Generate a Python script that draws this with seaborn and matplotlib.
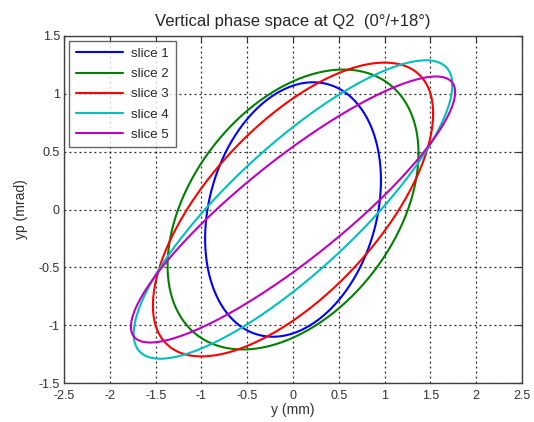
import numpy as np
import pandas as pd
import matplotlib
matplotlib.use("Agg")
import matplotlib.pyplot as plt
import seaborn as sns

# Ellipse parameters (centered on the origin)
slices = ["slice 1", "slice 2", "slice 3", "slice 4", "slice 5"]
y_max = [0.96, 1.37, 1.53, 1.74, 1.77]          # largest y (mm)
yp_max = [1.10, 1.21, 1.27, 1.29, 1.15]         # largest yp (mrad)
y_at_yp_max = [0.22, 0.55, 1.00, 1.45, 1.56]    # y where yp peaks (mm)
colors = ["#0000ff", "#008000", "#ff0000", "#00bfbf", "#bf00bf"]

x_ticks = [-2.5, -2, -1.5, -1, -0.5, 0, 0.5, 1, 1.5, 2, 2.5]
y_ticks = [-1.5, -1, -0.5, 0, 0.5, 1, 1.5]

# Sample each phase-space ellipse
rows = []
t = np.linspace(0, 2 * np.pi, 361)
for name, a, b, yc in zip(slices, y_max, yp_max, y_at_yp_max):
    phi = np.arccos(yc / a)
    df_s = pd.DataFrame({"y": a * np.cos(t), "yp": b * np.cos(t - phi), "slice": name})
    rows.append(df_s)
df = pd.concat(rows, ignore_index=True)

sns.set_style("white")
plt.rcParams["font.family"] = ["Liberation Sans", "DejaVu Sans"]

fig = plt.figure(figsize=(5.34, 4.22), dpi=100)
ax = fig.add_axes([0.120, 0.0924, 0.8575, 0.8223])

sns.lineplot(data=df, x="y", y="yp", hue="slice", palette=colors, sort=False, estimator=None, units="slice", lw=1.5, ax=ax)

ax.set_xlim(-2.5, 2.5)
ax.set_ylim(-1.5, 1.5)
ax.set_xticks(x_ticks)
ax.set_xticklabels([f"{v:g}" for v in x_ticks])
ax.set_yticks(y_ticks)
ax.set_yticklabels([f"{v:g}" for v in y_ticks])
ax.grid(True, color="#202020", linestyle=(0, (1.5, 2.5)), linewidth=0.9)
ax.tick_params(direction="in", top=True, right=True, length=4, width=0.8, labelsize=9, colors="#303030")
ax.tick_params(axis="x", pad=5)
ax.tick_params(axis="y", pad=3)
for sp in ax.spines.values():
    sp.set_color("#404040")
    sp.set_linewidth(1.0)

ax.set_xlabel("y (mm)", fontsize=10, labelpad=1, color="#303030")
ax.set_ylabel("yp (mrad)", fontsize=10, labelpad=8, color="#303030")
ax.set_title("Vertical phase space at Q2  (0°/+18°)", fontsize=12, pad=7)

leg = ax.legend(loc="upper left", frameon=True, fancybox=False, fontsize=9.5, handlelength=3.6,
                borderpad=0.5, labelspacing=0.6, borderaxespad=0.4, handletextpad=0.6)
leg.get_frame().set_edgecolor("#404040")
leg.get_frame().set_linewidth(1.0)
for h in leg.get_lines():
    h.set_linewidth(1.5)

fig.savefig("out.png", dpi=100)
